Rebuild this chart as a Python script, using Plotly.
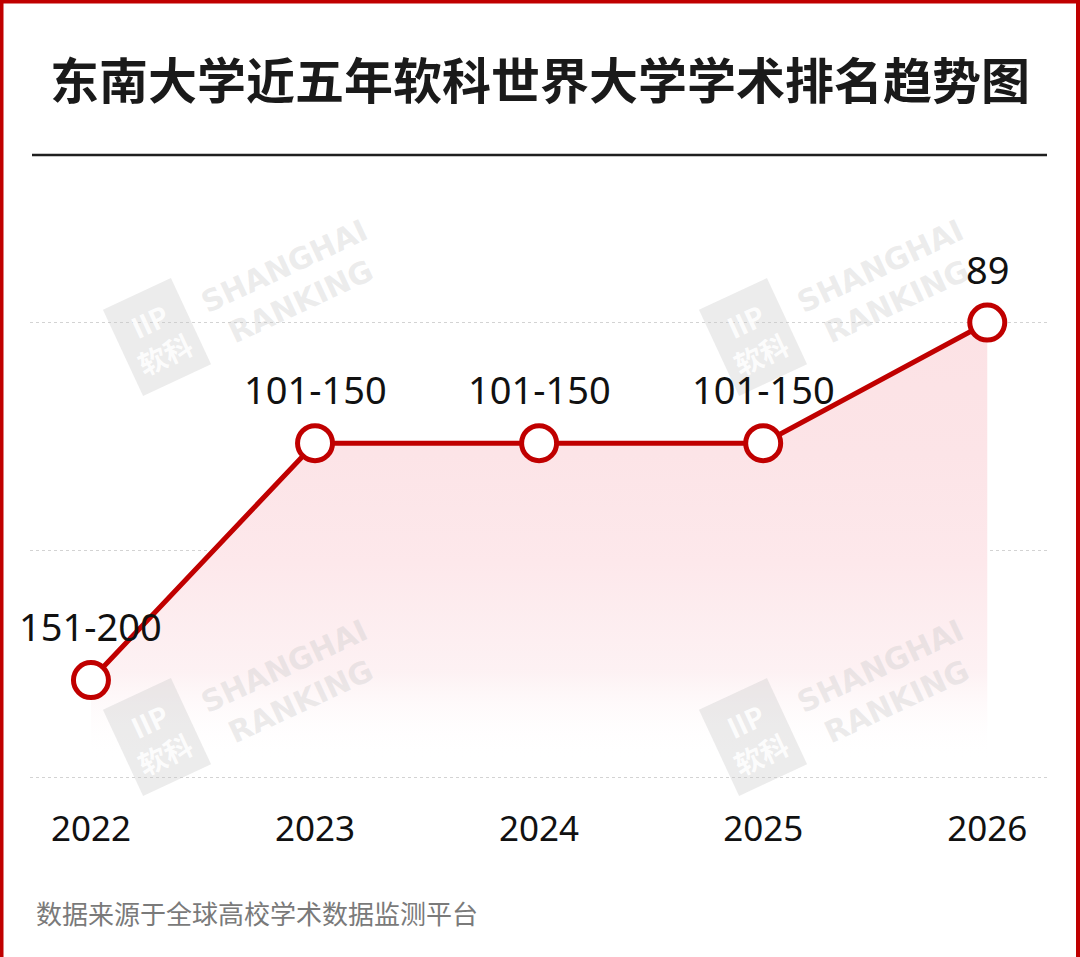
import plotly.graph_objects as go

# ---------------- data ----------------
years = [2022, 2023, 2024, 2025, 2026]
rank_labels = ["151-200", "101-150", "101-150", "101-150", "89"]
plot_level = [0.43, 1.47, 1.47, 1.47, 2.0]   # vertical position of each rank on the chart
grid_levels = [0, 1, 2]
tick_labels = ["2022", "2023", "2024", "2025", "2026"]

title_text = "东南大学近五年软科世界大学学术排名趋势图"
source_text = "数据来源于全球高校学术数据监测平台"

W, H = 1080, 957
ML, MR, MT, MB = 30, 30, 170, 167
PW, PH = W - ML - MR, H - MT - MB

RED = "#c00000"
CJK = "Noto Sans CJK SC"
NUM = "Noto Sans"

def px_x(x):  # pixel -> paper
    return (x - ML) / PW

def px_y(y):
    return (H - MB - y) / PH

fig = go.Figure()

fig.add_trace(go.Scatter(
    x=years, y=plot_level,
    mode="lines+markers",
    line=dict(color=RED, width=5),
    marker=dict(size=35, color="white", line=dict(color=RED, width=5)),
    fill="tozeroy",
    fillgradient=dict(
        type="vertical",
        colorscale=[
            [0.0, "rgba(255,255,255,0)"],
            [0.2, "rgba(253,240,242,0.9)"],
            [0.45, "rgb(253,232,235)"],
            [0.7, "rgb(252,228,231)"],
            [1.0, "rgb(252,226,229)"],
        ],
        start=0.08, stop=2.0,
    ),
    hoverinfo="skip",
    cliponaxis=False,
    showlegend=False,
))

annotations = []
# watermarks (drawn first, under other text)
WM = "rgba(200,200,200,0.35)"
for dx, dy in [(0, 0), (596, 0), (0, 400), (596, 400)]:
    annotations.append(dict(
        x=px_x(157 + dx), y=px_y(337 + dy), xref="paper", yref="paper",
        xanchor="center", yanchor="middle",
        text="<b>IIP<br>软科</b>", showarrow=False, textangle=-25,
        font=dict(family=CJK, size=28, color="rgba(255,255,255,0.9)"),
        bgcolor=WM, borderpad=9,
    ))
    annotations.append(dict(
        x=px_x(292 + dx), y=px_y(284 + dy), xref="paper", yref="paper",
        xanchor="center", yanchor="middle",
        text="<b>SHANGHAI<br>RANKING</b>", showarrow=False, textangle=-25,
        font=dict(family="DejaVu Sans", size=30, color=WM),
    ))

for x, y, t in zip(years, plot_level, rank_labels):
    annotations.append(dict(
        x=x, y=y, xref="x", yref="y", text=t, showarrow=False,
        xanchor="center", yanchor="middle",
        yshift=54, font=dict(family=NUM, size=38, color="#111111"),
    ))

# title & footer
annotations.append(dict(
    x=px_x(540), y=px_y(78), xref="paper", yref="paper", text="<b>" + title_text + "</b>",
    showarrow=False, xanchor="center", yanchor="middle",
    font=dict(family=CJK, size=49, color="#1a1a1a"),
))
annotations.append(dict(
    x=px_x(34), y=px_y(912), xref="paper", yref="paper", text=source_text,
    showarrow=False, xanchor="left", yanchor="middle",
    font=dict(family=CJK, size=26, color="#7a7a7a"),
))

shapes = [
    # rule under title
    dict(type="line", xref="paper", yref="paper",
         x0=px_x(32), x1=px_x(1047), y0=px_y(155), y1=px_y(155),
         line=dict(color="#1f1f1f", width=2.5)),
    # red frame (top, left, right)
    dict(type="line", xref="paper", yref="paper",
         x0=px_x(0), x1=px_x(W), y0=px_y(1.5), y1=px_y(1.5),
         line=dict(color=RED, width=4)),
    dict(type="line", xref="paper", yref="paper",
         x0=px_x(1.5), x1=px_x(1.5), y0=px_y(0), y1=px_y(H),
         line=dict(color=RED, width=4)),
    dict(type="line", xref="paper", yref="paper",
         x0=px_x(W - 2), x1=px_x(W - 2), y0=px_y(0), y1=px_y(H),
         line=dict(color=RED, width=4)),
]

fig.update_layout(
    width=W, height=H,
    margin=dict(l=ML, r=MR, t=MT, b=MB, pad=0),
    paper_bgcolor="white", plot_bgcolor="white",
    annotations=annotations, shapes=shapes,
    showlegend=False,
    xaxis=dict(
        range=[2021.728, 2026.28], tickvals=years, ticktext=tick_labels,
        showgrid=False, zeroline=False, showline=False, ticks="",
        tickfont=dict(family=NUM, size=35, color="#111111"),
        ticklabelstandoff=15, fixedrange=True,
    ),
    yaxis=dict(
        range=[-0.053, 2.67], tickvals=grid_levels, showticklabels=False,
        showgrid=True, gridcolor="#d3d3d3", gridwidth=1, griddash="3px,3px",
        zeroline=False, showline=False, ticks="", fixedrange=True,
    ),
)

fig.write_html(
    "out.html",
    config={"displayModeBar": False},
    post_script="document.body.style.margin='0';document.body.style.overflow='hidden';",
)
